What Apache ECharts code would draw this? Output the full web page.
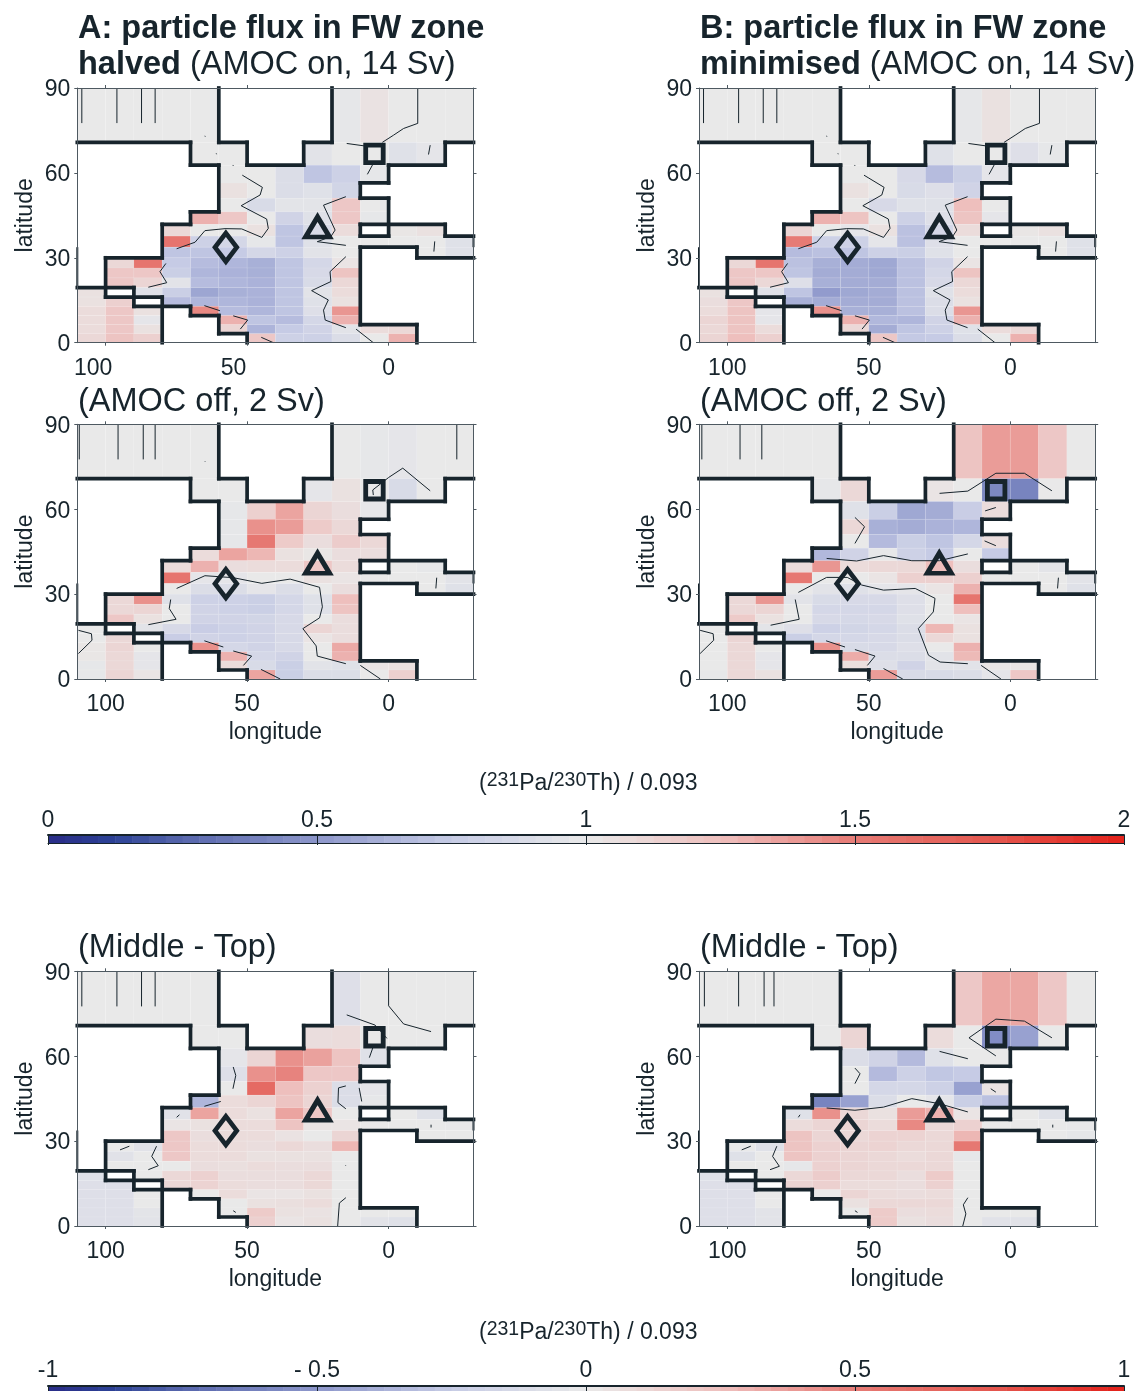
<!DOCTYPE html>
<html><head><meta charset="utf-8">
<style>html,body{margin:0;padding:0;background:#fff}#c{width:1136px;height:1391px}</style>
<script src="https://cdn.jsdelivr.net/npm/echarts@6/dist/echarts.min.js"></script>
</head><body><div id="c"></div>
<script>
const _ = null;
const lonEdges = [110,100,90,80,70,60,50,40,30,20,10,0,-10,-20,-30];
const latEdges = [0,3.18,6.38,9.59,12.84,16.13,19.47,22.89,26.39,30,33.75,37.67,41.81,46.24,51.06,56.44,62.73,70.8,90];
const xTickValues = [100,50,0];
const yTickValues = [0,30,60,90];

// values: rows from the northernmost (70.8-90) to the southernmost (0-3.2); columns from 110 to -30 lon
const panelA_on = [
[1,1,1,1,1,_,_,_,_,.98,1.04,1,1,1],
[_,_,_,_,1,1,_,_,.95,1,1,.93,.97,_],
[_,_,_,_,_,1,1,.9,.72,.8,.98,_,_,_],
[_,_,_,_,_,1.05,1,.9,.93,.83,_,_,_,_],
[_,_,_,_,_,1,.88,.96,.96,1.2,1,_,_,_],
[_,_,_,_,1.3,1.2,1,.82,.93,1.2,.98,_,_,_],
[_,_,_,1.1,1,1,1.05,.72,.88,1.08,_,1.02,1.05,_],
[_,_,_,1.55,.8,.85,.98,.72,.93,1,1,1,1,.93],
[_,_,_,.72,.72,.75,.85,.8,.95,1,_,_,1,.93],
[_,1.1,1.55,.75,.68,.65,.62,.72,.85,1.03,_,_,_,_],
[_,1.2,1.2,.78,.65,.63,.62,.72,.87,1.22,_,_,_,_],
[_,1.2,1.12,.95,.68,.65,.63,.72,.88,1.1,_,_,_,_],
[1.05,_,.93,.78,.57,.62,.63,.72,.95,1.08,_,_,_,_],
[1.05,1.15,_,.68,.65,.65,.63,.72,.93,1.05,_,_,_,_],
[1.08,1.2,1.05,_,1.45,.68,.65,.72,.92,1.4,_,_,_,_],
[1.08,1.2,.97,_,_,1.3,.72,.68,.85,1.3,_,_,_,_],
[1.08,1.2,1.05,_,_,1.12,.64,.75,.82,.95,1.08,1.1,_,_],
[1.1,1.22,1.15,_,_,_,1.2,.8,.8,.9,1,1.3,_,_]
];
const panelB_on = [
[1,1,1,1,1,_,_,_,_,.98,1.05,1,1,1],
[_,_,_,_,1,1,_,_,.93,1,1,.92,.98,_],
[_,_,_,_,_,1,1,.87,.68,.78,.97,_,_,_],
[_,_,_,_,_,1.05,1,.88,.92,.82,_,_,_,_],
[_,_,_,_,_,1,.87,.93,.93,1.25,1,_,_,_],
[_,_,_,_,1.3,1.22,1,.8,.92,1.22,.97,_,_,_],
[_,_,_,1.12,1,.97,1.05,.7,.85,1.08,_,1.02,1.05,_],
[_,_,_,1.5,.8,.8,.97,.7,.92,1,1,1,1,.93],
[_,_,_,.68,.7,.72,.8,.78,.93,1,_,_,1,.93],
[_,1.1,1.55,.7,.62,.6,.58,.7,.82,1.03,_,_,_,_],
[_,1.2,1.2,.72,.6,.6,.58,.7,.85,1.22,_,_,_,_],
[_,1.2,1.1,.92,.62,.6,.6,.7,.87,1.1,_,_,_,_],
[1.05,_,.93,.72,.52,.58,.6,.7,.93,1.08,_,_,_,_],
[1.07,1.2,_,.62,.6,.6,.6,.7,.9,1.05,_,_,_,_],
[1.08,1.22,.97,_,1.42,.62,.62,.7,.9,1.4,_,_,_,_],
[1.12,1.22,.97,_,_,1.3,.66,.65,.82,1.3,_,_,_,_],
[1.1,1.22,1.08,_,_,1.1,.6,.72,.8,.93,1.08,1.1,_,_],
[1.12,1.25,1.15,_,_,_,1.2,.74,.75,.9,1,1.3,_,_]
];
const panelA_off = [
[1,1,1,1,1,_,_,_,_,1,.98,.97,1,1],
[_,_,_,_,1,1,_,_,.97,1.05,1,.88,1,_],
[_,_,_,_,_,.98,1.15,1.35,1.12,1.07,.98,_,_,_],
[_,_,_,_,_,.98,1.42,1.38,1.18,1.1,_,_,_,_],
[_,_,_,_,_,.98,1.52,1.18,1.07,1.17,1.1,_,_,_],
[_,_,_,_,1.08,1.35,1.28,1.05,1.02,1.07,1.07,_,_,_],
[_,_,_,1.08,1.3,1.07,1.08,1.08,1.2,1.08,_,1,.98,_],
[_,_,_,1.55,.97,.97,1,1,1.05,1.03,1,1,1,.95],
[_,_,_,1,.9,.9,.97,.9,1,1.07,_,_,1,.93],
[_,1.1,1.42,.93,.8,.8,.78,.85,.93,1.25,_,_,_,_],
[_,1.1,1.12,1,.82,.8,.78,.85,.93,1.22,_,_,_,_],
[_,1.2,1.05,1,.82,.82,.83,.87,1,1.07,_,_,_,_],
[1,_,.95,.87,.77,.8,.82,.87,1.12,1.07,_,_,_,_],
[1,1.1,_,.77,.82,.8,.82,.87,1.03,1.07,_,_,_,_],
[1.02,1.12,1,_,1.42,.85,.82,.87,1,1.33,_,_,_,_],
[1.02,1.1,.97,_,_,1.3,.85,.82,1,1.3,_,_,_,_],
[.98,1.1,.97,_,_,1.08,.88,.78,.95,.93,1.03,1.05,_,_],
[.98,1.12,1.03,_,_,_,1.35,.78,.9,.9,1,1.15,_,_]
];
const panelB_off = [
[1,1,1,1,1,_,_,_,_,1.22,1.38,1.38,1.2,1],
[_,_,_,_,.98,1.1,_,_,1.03,1,.42,.4,1,_],
[_,_,_,_,_,.93,.78,.58,.6,.77,1.08,_,_,_],
[_,_,_,_,_,1.1,.62,.6,.63,.65,_,_,_,_],
[_,_,_,_,_,1,.67,.78,.72,.85,1.07,_,_,_],
[_,_,_,_,.66,.82,.98,.8,.75,1,.75,_,_,_],
[_,_,_,1.08,1.4,1.08,1.1,1.1,1.25,1.07,_,1,.96,_],
[_,_,_,1.52,1,1,1.03,1.15,1.15,1.15,1,1,1,.95],
[_,_,_,1,.95,.93,.97,.97,1.03,1.3,_,_,1,.93],
[_,1.1,1.4,.95,.88,.87,.87,.92,1,1.55,_,_,_,_],
[_,1.1,1.12,1,.85,.85,.85,.92,1,1.25,_,_,_,_],
[_,1.18,1.05,1,.87,.86,.87,.93,1,1.03,_,_,_,_],
[1,_,.96,.92,.8,.83,.85,.9,1.28,1.05,_,_,_,_],
[1,1.12,_,.78,.85,.85,.87,.9,1.1,1.05,_,_,_,_],
[1,1.1,1,_,1.42,.88,.87,.92,1,1.3,_,_,_,_],
[1,1.1,.97,_,_,1.32,.9,.9,.95,1.27,_,_,_,_],
[1,1.1,.97,_,_,1.06,.92,.82,.95,.95,1.02,1.02,_,_],
[.98,1.1,1.05,_,_,_,1.38,.88,.88,.9,.97,1.2,_,_]
];
const panelA_diff = [
[0,0,0,0,0,_,_,_,_,-.08,0,0,0,0],
[_,_,_,_,0,0,_,_,.07,.08,0,0,0,_],
[_,_,_,_,_,-.03,.12,.42,.36,.22,-.07,_,_,_],
[_,_,_,_,_,-.08,.42,.47,.2,.2,_,_,_,_],
[_,_,_,_,_,0,.62,.25,.14,-.1,-.03,_,_,_],
[_,_,_,_,-.35,.08,.12,.22,.12,-.1,-.02,_,_,_],
[_,_,_,-.06,.35,.08,.05,.35,.2,0,_,0,-.07,_],
[_,_,_,.03,.05,.08,.08,.22,.03,.03,0,0,0,-.01],
[_,_,_,.2,.07,.08,.08,.04,0,.12,_,_,0,0],
[_,0,-.06,.2,.08,.08,.07,.1,.07,.28,_,_,_,_],
[_,-.06,0,.2,.08,.08,.05,.05,.05,0,_,_,_,_],
[_,0,0,0,.07,.06,.08,.07,.07,0,_,_,_,_],
[-.07,_,0,.1,.14,.07,.07,.07,.1,0,_,_,_,_],
[-.08,-.08,_,.1,.13,.08,.07,.07,.1,0,_,_,_,_],
[-.08,-.08,0,_,0,.08,.03,.03,.05,0,_,_,_,_],
[-.08,-.08,0,_,_,0,.05,.06,.08,0,_,_,_,_],
[-.08,-.08,-.04,_,_,0,.18,.05,.04,0,0,0,_,_],
[-.08,-.08,-.05,_,_,_,.15,.03,.05,0,-.05,-.07,_,_]
];
const panelB_diff = [
[0,0,0,0,0,_,_,_,_,.2,.34,.34,.2,0],
[_,_,_,_,0,.12,_,_,.08,0,-.55,-.45,0,_],
[_,_,_,_,_,-.1,-.18,-.33,-.07,0,0,_,_,_],
[_,_,_,_,_,0,-.33,-.2,-.27,-.25,_,_,_,_],
[_,_,_,_,_,0,-.15,-.15,-.2,-.45,.03,_,_,_],
[_,_,_,_,-.6,-.45,-.1,0,-.03,-.22,-.3,_,_,_],
[_,_,_,-.07,.42,.1,.05,.38,.3,.03,_,0,-.07,_],
[_,_,_,.08,.12,.12,.08,.45,.1,.14,0,0,0,-.01],
[_,_,_,.22,.12,.1,.13,.13,.1,.28,_,_,0,-.02],
[_,0,-.07,.22,.14,.12,.13,.1,.1,.52,_,_,_,_],
[_,-.07,0,.22,.14,.12,.1,.08,.1,-.02,_,_,_,_],
[_,0,0,-.02,.14,.12,.1,.1,.1,0,_,_,_,_],
[-.07,_,0,.1,.17,.1,.1,.07,.18,0,_,_,_,_],
[-.08,-.08,_,.12,.15,.08,.08,.07,.14,0,_,_,_,_],
[-.08,-.08,0,_,0,.12,.08,.07,.08,0,_,_,_,_],
[-.08,-.08,0,_,_,.05,.1,.1,.1,0,_,_,_,_],
[-.08,-.08,-.05,_,_,0,.18,.07,.08,0,0,0,_,_],
[-.08,-.08,-.05,_,_,_,.18,.05,.07,0,-.06,-.06,_,_]
];

// contour lines, [lon, lat] vertices
const ticksTop = lons => lons.map(l => [[l,90],[l,77.6]]);
const contourOn = [
...ticksTop([108.4,96,87.3,82.5]),
[[-10.3,90],[-10.3,77.5],[-5.3,75.7],[-1.7,73.3],[2.2,70.8]],
[[14.8,70.4],[8.3,69.5]],
[[5.7,62.8],[7.5,59.5]],
[[-14.7,69.8],[-14.1,66.5]],
[[-16.3,35.8],[-16,32.2]],
[[65,73],[64.7,72.9]],
[[60.9,66.9],[60.8,66.6]],
[[55,62.8],[54.9,62.5]],
[[51.7,59.2],[44.6,54.9],[45.4,52.2],[52.1,48.4],[43.1,43.7],[42.5,40.4],[44.8,37.2],[51.9,40.2],[57.8,40.3],[64.9,39.6],[68.4,35.5],[74.9,33.2]],
[[15.1,51.6],[23,48.6],[18.9,39.8],[20.4,37.5],[25.2,35.7],[15.1,34.4]],
[[15.1,30.4],[20.7,25.1],[20.4,21.6],[27.2,18.4],[21.3,15.1],[23,11.5],[22.4,8],[15.1,5.3]],
[[78.7,28],[80.8,25.1],[78.4,21.2],[84.9,19.6]],
[[65.1,13.1],[59.6,11.3]],
[[54.9,9.5],[49.8,8],[52.4,4.8]],
[[45,1.9],[40.7,0]],
[[11.5,4.8],[5.4,0]]
];
const contourA_off = [
...ticksTop([109.3,95.6,86.7,82.5,-24.1]),
[[5.4,65],[5.6,66.8],[0,71.2],[-5,74.5],[-14.7,66.5]],
[[-17,35.8],[-16.7,32]],
[[65,77],[64.8,76.8]],
[[109.6,17.2],[105,16],[104.8,13.7],[109.6,9]],
[[74.9,32],[64.9,36.5],[54.9,35.8],[44.8,33.8],[34.8,35.3],[24.4,32.4],[23.4,25.5],[24.4,21.6],[30.3,17.8],[25.6,11.7],[25.2,8.1],[15.1,5.4]],
[[77,28.1],[77.5,24.9],[75.1,21.1],[84.9,19.2]],
[[65.1,13.5],[58.4,11.3]],
[[54.9,9.9],[48.4,8.1],[51.3,4.8]],
[[45.1,3.4],[38.3,0]],
[[10,4.8],[2.9,0]]
];
const contourB_off = [
...ticksTop([109,95.5,87.8]),
[[25,65.6],[15,66.4],[5.1,72.7],[-5,72.7],[-14.7,66.5]],
[[5.1,60.6],[8.9,59.4]],
[[9.1,48.8],[5.1,47.1]],
[[-17,35.8],[-16.7,32]],
[[109.6,17.2],[105,16],[104.8,13.7],[109.6,9]],
[[54.9,57.1],[51.5,53.8],[54.9,47.9]],
[[64.9,42.6],[54.3,41.7],[44.8,43.6],[34.8,41.8],[25,41.8],[15,44.2]],
[[74.9,30.6],[64.9,35.9],[57.6,35.9],[52.5,33.2],[44.8,31.4],[33.6,32],[26.6,28.5],[27.2,23.7],[32.5,17.8],[28.9,8.4],[24.8,6],[15,5.4]],
[[76,28.1],[74.6,21.1],[84.7,19]],
[[65.1,13.5],[58.4,11.3]],
[[54.9,10.4],[47.8,8.1],[50.5,4.8]],
[[44.8,3.7],[38,0]],
[[10.3,4.8],[3.3,0]]
];
const contourA_diff = [
...ticksTop([108.4,96,87.3,82.5]),
[[0,90],[0,77.8],[-5.3,71.4],[-15,68.7]],
[[14.8,74.6],[4.8,71],[.6,66.3]],
[[5.6,62.9],[6.8,59.5]],
[[54.9,56.2],[54,53.2],[55,48.5]],
[[15.1,49.5],[17.7,48.8],[17.9,43.6],[15.1,41.4]],
[[10.4,48.8],[9.5,44]],
[[65.1,42.3],[59.3,44]],
[[73.9,39.3],[74.9,38.4]],
[[94.9,26.9],[91.6,28.2]],
[[82,28.2],[83.7,24.6],[81.4,21.3],[84.9,19.9]],
[[15.1,10],[17.4,8.1],[18,0]],
[[54.9,5.4],[54,4.8]],
[[-15,35.8],[-15,34.8]],
[[15.2,21.4],[15,21.2]]
];
const contourB_diff = [
...ticksTop([108.1,96,87,83.5]),
[[5.1,60.1],[14.6,66.5],[5.1,73.1],[-5,72.4],[-14.7,66.5]],
[[25,61.7],[15,59.1]],
[[54.9,55.8],[53.1,53.8],[54.9,50.3]],
[[6.9,48.5],[5.1,47.3]],
[[64.9,41.7],[54.9,40.9],[44.8,42],[34.8,45],[25,43.2],[15,40.3]],
[[74.3,39.3],[74.9,38.4]],
[[94.9,26.9],[91.7,28.2]],
[[82.5,28.2],[84,24.6],[81.6,21.1],[84.9,19.9]],
[[15,10],[16.6,7.5],[15.7,4.3],[16.8,0]],
[[54.9,5.4],[54,4.8]],
[[-15,35.8],[-15,34.8]]
];

// site markers [lon, lat]
const siteSquare = [5, 66.7];
const siteDiamond = [57.5, 33.7];
const siteTriangle = [25.1, 40.9];

const barScaleTop = [0,.5,1,1.5,2];
const barScaleBottom = [-1,-.5,0,.5,1];
const barSteps = 64;

const colorStops = [[0,[42,44,136]],[.12,[44,66,150]],[.25,[88,103,173]],[.5,[141,151,203]],[.75,[198,203,229]],[1,[233,233,233]],[1.25,[238,191,189]],[1.5,[230,123,117]],[1.75,[228,88,80]],[2,[227,32,26]]];
function colorOf(v){
  v = Math.max(0, Math.min(2, v));
  for (let i = 1; i < colorStops.length; i++) {
    if (v <= colorStops[i][0]) {
      const a = colorStops[i-1], b = colorStops[i], t = (v-a[0])/(b[0]-a[0]);
      return 'rgb(' + a[1].map((c,k)=>Math.round(c+(b[1][k]-c)*t)).join(',') + ')';
    }
  }
}

const INK = '#17242c', AXIS = '#4e5961';
const FF = '"Liberation Sans", Arial, sans-serif';
const colLeft = [77.3, 699], rowTop = [88, 424.3, 971.3];
const PW = 396.2, PH = 254.7;

const panels = [
 {col:0,row:0,v:panelA_on,offset:0,c:contourOn,tickLabels:[104.4,54.8,0]},
 {col:1,row:0,v:panelB_on,offset:0,c:contourOn,tickLabels:[100,50,0]},
 {col:0,row:1,v:panelA_off,offset:0,c:contourA_off,tickLabels:[100,50,0],xName:true},
 {col:1,row:1,v:panelB_off,offset:0,c:contourB_off,tickLabels:[100,50,0],xName:true},
 {col:0,row:2,v:panelA_diff,offset:1,c:contourA_diff,tickLabels:[100,50,0],xName:true},
 {col:1,row:2,v:panelB_diff,offset:1,c:contourB_diff,tickLabels:[100,50,0],xName:true},
];

const grid=[], xAxis=[], yAxis=[], series=[];
// coast: boundary edges between sea and land cells, joined into long straight runs
function maskEdges(v){
  const sea=(r,c)=> r>=0&&r<18&&c>=0&&c<14&&v[17-r][c]!==null;
  const inside=(r,c)=> r>=0&&r<18&&c>=0&&c<14;
  const edges=[];
  for(let c=1;c<14;c++){            // vertical runs along column edge c
    let start=null;
    for(let r=0;r<=18;r++){
      const b=r<18&&sea(r,c)!==sea(r,c-1);
      if(b&&start===null)start=r;
      if(!b&&start!==null){edges.push([lonEdges[c],latEdges[start],lonEdges[c],latEdges[r]]);start=null;}
    }
  }
  for(let r=1;r<18;r++){            // horizontal runs along row edge r
    let start=null;
    for(let c=0;c<=14;c++){
      const b=c<14&&sea(r,c)!==sea(r-1,c);
      if(b&&start===null)start=c;
      if(!b&&start!==null){edges.push([lonEdges[start],latEdges[r],lonEdges[c],latEdges[r]]);start=null;}
    }
  }
  return edges;
}
const wrapWalls = [[110,latEdges[6],110,latEdges[10]],[-30,latEdges[10],-30,latEdges[11]]];

panels.forEach(p=>{
  const g=grid.length;
  grid.push({left:colLeft[p.col],top:rowTop[p.row],width:PW,height:PH,containLabel:false});
  const xi=xAxis.length, yi=yAxis.length;
  const xBase={type:'value',gridIndex:g,inverse:true,min:-30,max:110,splitLine:{show:false},z:6,
    axisLine:{show:true,onZero:false,lineStyle:{color:AXIS,width:1}},
    axisTick:{show:true,length:3,inside:false,customValues:xTickValues,lineStyle:{color:AXIS,width:1}}};
  const yBase={type:'value',gridIndex:g,min:0,max:90,interval:30,splitLine:{show:false},z:6,
    axisLine:{show:true,onZero:false,lineStyle:{color:AXIS,width:1}},
    axisTick:{show:true,length:3,inside:false,lineStyle:{color:AXIS,width:1}}};
  const tl=p.tickLabels;
  xAxis.push(Object.assign({},xBase,{position:'bottom',
    name:p.xName?'longitude':'',nameLocation:'middle',nameGap:42,
    nameTextStyle:{fontFamily:FF,fontSize:23,color:INK},
    axisLabel:{show:true,customValues:tl,margin:14,fontFamily:FF,fontSize:23,color:INK,
      formatter:val=>String(xTickValues[tl.indexOf(val)])}}));
  xAxis.push(Object.assign({},xBase,{position:'top',axisLabel:{show:false}}));
  yAxis.push(Object.assign({},yBase,{position:'left',
    name:'latitude',nameLocation:'middle',nameGap:40,
    nameTextStyle:{fontFamily:FF,fontSize:23,color:INK},
    axisLabel:{show:true,margin:7,fontFamily:FF,fontSize:23,color:INK,
      formatter:val=>'{a|'+val+'}',
      rich:{a:{fontFamily:FF,fontSize:23,color:INK,padding:[4,0,0,0]}}}}));
  yAxis.push(Object.assign({},yBase,{position:'right',axisLabel:{show:false}}));

  const cells=[];
  p.v.forEach((row,ri)=>row.forEach((val,c)=>{ if(val!==null) cells.push([c,17-ri,val]); }));
  series.push({type:'custom',xAxisIndex:xi,yAxisIndex:yi,silent:true,z:1,clip:false,
    encode:{x:0,y:1},data:cells,
    renderItem(params,api){
      const c=api.value(0), r=api.value(1), val=api.value(2);
      const a=api.coord([lonEdges[c],latEdges[r+1]]), b=api.coord([lonEdges[c+1],latEdges[r]]);
      return {type:'rect',shape:{x:a[0],y:a[1],width:b[0]-a[0],height:b[1]-a[1]},
        style:{fill:colorOf(val+p.offset),stroke:'rgba(255,255,255,0.15)',lineWidth:.6}};
    }});
  series.push({type:'lines',xAxisIndex:xi,yAxisIndex:yi,coordinateSystem:'cartesian2d',polyline:true,silent:true,z:2,
    lineStyle:{color:INK,width:1,opacity:1},
    data:p.c.map(l=>({coords:l}))});
  series.push({type:'custom',xAxisIndex:xi,yAxisIndex:yi,silent:true,z:3,clip:false,
    encode:{x:[0,2],y:[1,3]},data:maskEdges(p.v),
    renderItem(params,api){
      const a=api.coord([api.value(0),api.value(1)]), b=api.coord([api.value(2),api.value(3)]);
      return {type:'line',shape:{x1:a[0],y1:a[1],x2:b[0],y2:b[1]},
        style:{stroke:INK,lineWidth:3.7,lineCap:'square'}};
    }});
  series.push({type:'custom',xAxisIndex:xi,yAxisIndex:yi,silent:true,z:3,clip:false,
    encode:{x:[0,2],y:[1,3]},data:wrapWalls,
    renderItem(params,api){
      const a=api.coord([api.value(0),api.value(1)]), b=api.coord([api.value(2),api.value(3)]);
      return {type:'line',shape:{x1:a[0],y1:a[1],x2:b[0],y2:b[1]},style:{stroke:INK,lineWidth:2}};
    }});
  series.push({type:'scatter',xAxisIndex:xi,yAxisIndex:yi,silent:true,z:5,
    itemStyle:{color:'rgba(0,0,0,0)',borderColor:INK,borderWidth:4.8,borderJoin:'miter',borderMiterLimit:10,opacity:1},
    data:[
      {value:siteSquare,symbol:'rect',symbolSize:[17.5,17.5]},
      {value:siteDiamond,symbol:'diamond',symbolSize:[21.7,28.4]},
      {value:siteTriangle,symbol:'triangle',symbolSize:[24,20]}
    ]});
});

function addBar(top,scale,fmt,margin){
  const g=grid.length;
  grid.push({left:48,top:top,width:1076,height:8.5});
  const xi=xAxis.length, yi=yAxis.length;
  xAxis.push({type:'value',gridIndex:g,position:'top',min:scale[0],max:scale[4],interval:.5,splitLine:{show:false},z:6,
    axisLine:{show:true,onZero:false,lineStyle:{color:INK,width:2}},
    axisTick:{show:true,inside:true,length:10,lineStyle:{color:INK,width:1}},
    axisLabel:{show:true,margin:margin,fontFamily:FF,fontSize:23,color:INK,showMinLabel:true,showMaxLabel:true,hideOverlap:false,formatter:fmt}});
  xAxis.push({type:'value',gridIndex:g,position:'bottom',min:scale[0],max:scale[4],z:6,splitLine:{show:false},
    axisLine:{show:true,onZero:false,lineStyle:{color:INK,width:1}},axisTick:{show:false},axisLabel:{show:false}});
  yAxis.push({type:'value',gridIndex:g,min:0,max:1,show:false});
  const steps=[];
  for(let k=0;k<barSteps;k++)steps.push([k]);
  series.push({type:'custom',xAxisIndex:xi,yAxisIndex:yi,silent:true,z:1,clip:false,
    encode:{x:0},data:steps,
    renderItem(params,api){
      const k=api.value(0), w=(scale[4]-scale[0])/barSteps;
      const a=api.coord([scale[0]+k*w,1]), b=api.coord([scale[0]+(k+1)*w,0]);
      return {type:'rect',shape:{x:a[0],y:a[1],width:b[0]-a[0]+.5,height:b[1]-a[1]},
        style:{fill:colorOf(2*k/barSteps+1/barSteps)}};
    }});
}
addBar(835,barScaleTop,v=>String(v),3);
addBar(1386,barScaleBottom,v=>v<0?('- '+(-v)).replace('- 1','-1'):String(v),4);

const richTitle={b:{fontFamily:FF,fontSize:32.5,fontWeight:'bold',color:INK,lineHeight:36},n:{fontFamily:FF,fontSize:32.5,fontWeight:'normal',color:INK,lineHeight:36}};
const T=(x,y,text)=>({left:x,top:y,padding:0,text,textStyle:{rich:richTitle,fontFamily:FF,fontSize:32.5,fontWeight:'normal',color:INK,lineHeight:36}});
const richUnit={n:{fontFamily:FF,fontSize:23,fontWeight:'normal',color:INK,lineHeight:24,verticalAlign:'bottom'},
  s:{fontFamily:FF,fontSize:19.5,fontWeight:'normal',color:INK,lineHeight:18,verticalAlign:'top',padding:[0,0,12,0]}};
const U=(y)=>({left:479,top:y,padding:0,text:'{n|(}{s|231}{n|Pa/}{s|230}{n|Th) / 0.093}',textStyle:{rich:richUnit,fontWeight:'normal'}});
const title=[
 T(78,11,'{b|A: particle flux in FW zone}\n{b|halved} {n|(AMOC on, 14 Sv)}'),
 T(700,11,'{b|B: particle flux in FW zone}\n{b|minimised} {n|(AMOC on, 14 Sv)}'),
 T(78,384,'{n|(AMOC off, 2 Sv)}'),
 T(700,384,'{n|(AMOC off, 2 Sv)}'),
 T(78,930,'{n|(Middle - Top)}'),
 T(700,930,'{n|(Middle - Top)}'),
 U(771),U(1320)
];

const chart=echarts.init(document.getElementById('c'),null,{renderer:'canvas',width:1136,height:1391});
chart.setOption({animation:false,backgroundColor:'#fff',title,grid,xAxis,yAxis,series});
</script></body></html>
